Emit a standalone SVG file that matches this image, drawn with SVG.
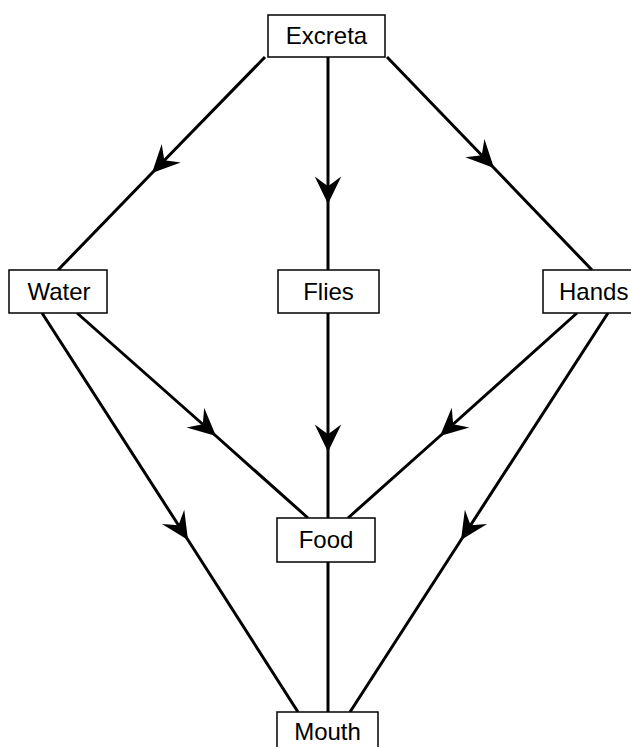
<svg xmlns="http://www.w3.org/2000/svg" width="631" height="747" viewBox="0 0 631 747">
<style>
.box{fill:#fff;stroke:#000;stroke-width:1.5}
.lbl{font-family:"Liberation Sans",Arial,sans-serif;font-size:24px;fill:#000;text-anchor:middle}
.edge{fill:none;stroke:#000;stroke-width:3;marker-mid:url(#ah)}
.plain{fill:none;stroke:#000;stroke-width:3}
</style>
<defs>
<marker id="ah" markerUnits="userSpaceOnUse" markerWidth="32" markerHeight="32" viewBox="-27 -13 29 26" refX="0" refY="0" orient="auto">
<path d="M0,0 L-25,-12 L-16,0 L-25,12 Z" fill="#000"/>
</marker>
</defs>
<rect width="631" height="747" fill="#fff"/>
<g id="connectors">
<path class="edge" d="M265,57 L152,173 L58,270"/>
<path class="edge" d="M328,57 L328,204 L328,270"/>
<path class="edge" d="M387,57 L494,168 L592,270"/>
<path class="edge" d="M77,313 L216,436 L308,518"/>
<path class="edge" d="M328,313 L328,452 L328,518"/>
<path class="edge" d="M577,313 L440,436 L348,518"/>
<path class="edge" d="M42,313 L188,540 L298,712"/>
<path class="edge" d="M608,313 L461,540 L350,712"/>
<path class="plain" d="M328,562 L328,712"/>
</g>
<g id="excreta"><rect class="box" x="268" y="15" width="117" height="42"/><text class="lbl" x="326.5" y="44">Excreta</text></g>
<g id="water"><rect class="box" x="9" y="270" width="98" height="43"/><text class="lbl" x="59" y="300">Water</text></g>
<g id="flies"><rect class="box" x="278" y="270" width="101" height="43"/><text class="lbl" x="328.5" y="300">Flies</text></g>
<g id="hands"><rect class="box" x="543" y="270" width="100" height="43"/><text class="lbl" x="559" y="300" style="text-anchor:start">Hands</text></g>
<g id="food"><rect class="box" x="277" y="518" width="98" height="44"/><text class="lbl" x="326" y="548">Food</text></g>
<g id="mouth"><rect class="box" x="277" y="712" width="101" height="45"/><text class="lbl" x="327.5" y="740">Mouth</text></g>
</svg>
